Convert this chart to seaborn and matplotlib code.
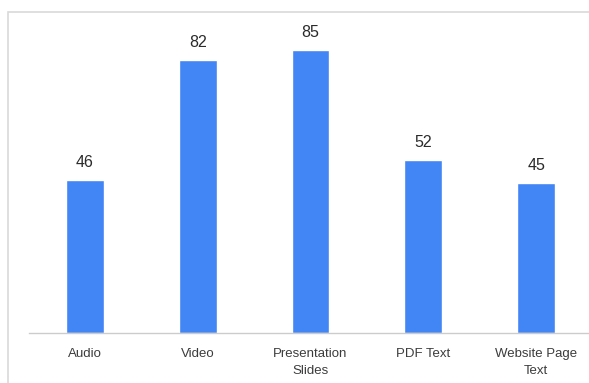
import matplotlib
matplotlib.use("Agg")
import matplotlib.pyplot as plt
import seaborn as sns
import pandas as pd
from matplotlib.patches import Rectangle

categories = ["Audio", "Video", "Presentation\nSlides", "PDF Text", "Website Page\nText"]
scores = [46, 82, 85, 52, 45]

df = pd.DataFrame({"format": categories, "score": scores})

sns.set_theme(style="white")
plt.rcParams["font.family"] = ["Liberation Sans", "DejaVu Sans"]

W, H = 589, 383
fig = plt.figure(figsize=(W / 100, H / 100), dpi=100)

# light gray frame around the chart card
fig.add_artist(Rectangle((8 / W, -0.05), 1.2, (H - 12) / H + 0.05,
                         transform=fig.transFigure, fill=False,
                         edgecolor="#d9d9d9", linewidth=1.2))

left, right = 28.5 / W, 592.5 / W
bottom, top = (H - 333) / H, (H - 25) / H
ax = fig.add_axes([left, bottom, right - left, top - bottom])

sns.barplot(data=df, x="format", y="score", color="#4285F4",
            width=0.335, saturation=1, ax=ax)

ax.set_xlim(-0.5, 4.5)
ax.set_ylim(0, 92.5)
for s in ["top", "right", "left"]:
    ax.spines[s].set_visible(False)
ax.spines["bottom"].set_color("#cccccc")
ax.spines["bottom"].set_linewidth(1.0)
ax.set_yticks([])
ax.set_xlabel("")
ax.set_ylabel("")
ax.tick_params(axis="x", length=0, pad=11, labelsize=9.5, labelcolor="#3c3c3c")
for lbl in ax.get_xticklabels():
    lbl.set_linespacing(1.5)

for c in ax.containers:
    ax.bar_label(c, labels=[str(v) for v in scores], padding=7,
                 fontsize=11.5, color="#2b2b2b")

fig.savefig("out.png", dpi=100)
